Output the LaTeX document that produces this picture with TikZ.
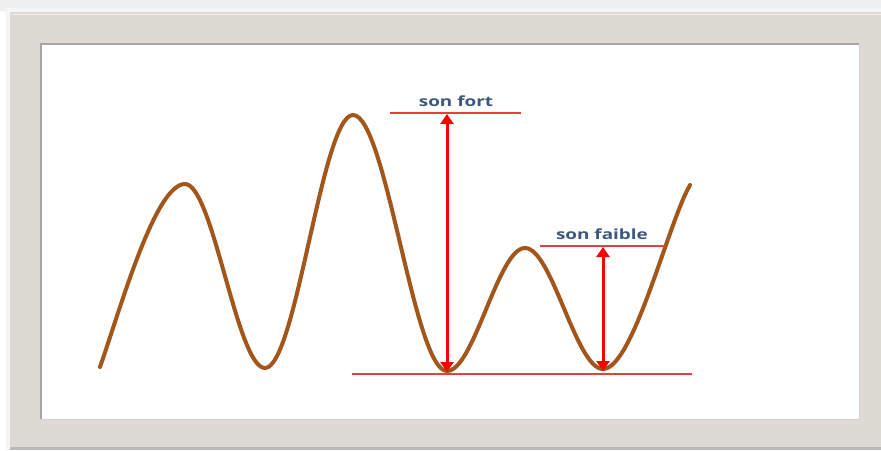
\documentclass[tikz,border=0pt]{standalone}
\usepackage{fontspec}
\setmainfont{Open Sans}
\usetikzlibrary{arrows.meta}
\definecolor{cadre}{RGB}{220,218,210}
\definecolor{onde}{RGB}{162,86,26}
\definecolor{rouge}{RGB}{255,0,0}
\definecolor{trait}{RGB}{235,60,65}
\definecolor{etiq}{RGB}{60,88,126}
\tikzset{
  mesure/.style={rouge, line width=3pt, {Triangle[width=13pt,length=10pt]}-{Triangle[width=13pt,length=10pt]}},
  niveau/.style={trait, line width=1.6pt},
  etiquette/.style={etiq, font=\bfseries\fontsize{14}{16}\selectfont, anchor=base, inner sep=0pt}
}
\begin{document}
\begin{tikzpicture}[x=1pt, y=-1pt]
\useasboundingbox (0,0) rectangle (881,450);
% fond et cadre
\fill[white] (0,0) rectangle (881,450);
\fill[gray!12] (0,0) rectangle (881,11);
\fill[gray!8] (6,8) rectangle (881,450);
\fill[cadre] (10,12) rectangle (881,447);
\fill[gray!55] (10,447) rectangle (881,450);
\draw[white!60!cadre, line width=1pt] (12,14) -- (881,14);
\fill[white] (41,44) rectangle (859,419);
\draw[gray!70, line width=1.5pt] (41,419) -- (41,44) -- (859,44);
\draw[gray!35, line width=1pt] (859,44) -- (859,419) -- (41,419);

% l'onde
\draw[onde, line width=4pt, line cap=round]
  (100,367) .. controls (120,310) and (155,184) .. (185,184)
  .. controls (213,184) and (237,368) .. (265,368)
  .. controls (296,368) and (322,115) .. (353,115)
  .. controls (386,115) and (414,371) .. (447,371)
  .. controls (474,371) and (498,248) .. (525,248)
  .. controls (552,248) and (576,369) .. (603,369)
  .. controls (633,369) and (668,223) .. (690,185);

% niveaux
\coordinate (basg) at (352,374);
\coordinate (basd) at (692,374);
\coordinate (fortg) at (390,113);
\coordinate (fortd) at (521,113);
\coordinate (faibleg) at (540,246);
\coordinate (faibled) at (665,246);
\draw[niveau] (basg) -- (basd);
\draw[niveau] (fortg) -- (fortd);
\draw[niveau] (faibleg) -- (faibled);

% fleches
\coordinate (fortbas) at (447,372);
\coordinate (forthaut) at (447,114);
\coordinate (faiblebas) at (603,371);
\coordinate (faiblehaut) at (603,247);
\draw[mesure] (fortbas) -- (forthaut);
\draw[mesure] (faiblebas) -- (faiblehaut);

% textes
\node[etiquette] (fort) at (456,106) {\scalebox{1.35}[1]{son fort}};
\node[etiquette] (faible) at (602,239) {\scalebox{1.35}[1]{son faible}};
\end{tikzpicture}
\end{document}
